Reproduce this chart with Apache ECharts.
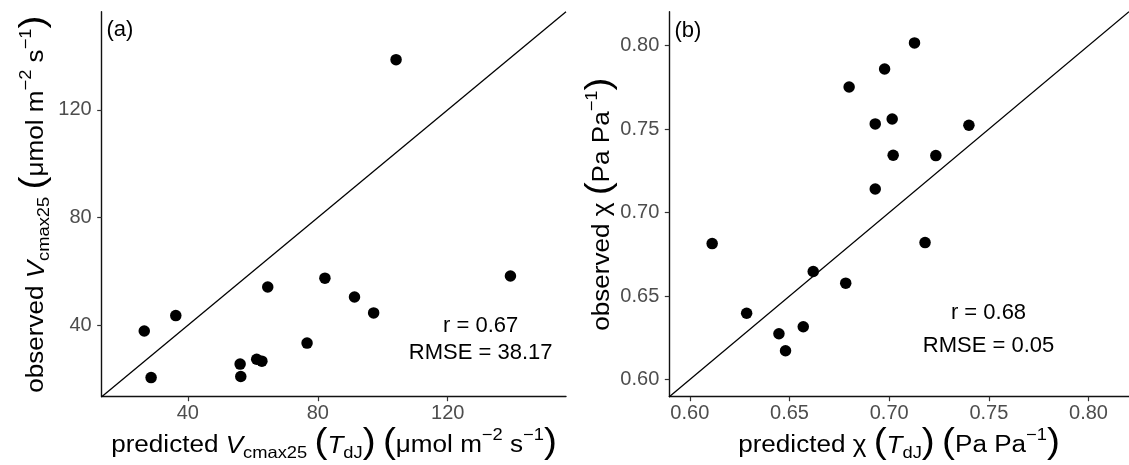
<!DOCTYPE html>
<html><head><meta charset="utf-8">
<script src="https://cdn.jsdelivr.net/npm/echarts@6/dist/echarts.min.js"></script>
<style>html,body{margin:0;padding:0;background:#fff}#c{width:1129px;height:465px}</style>
</head><body><div id="c"></div>
<script>
// ---- Panel (a): Vcmax25 ----
const predVcmax = [26.6, 28.7, 36.3, 56.1, 56.3, 61.2, 62.8, 64.6, 76.7, 82.2, 91.3, 97.2, 104.1, 139.3];
const obsVcmax  = [37.9, 20.6, 43.6, 25.6, 21.0, 27.4, 26.7, 54.2, 33.4, 57.5, 50.5, 44.6, 138.6, 58.3];
const limitsA = [13.5, 156.4];
const ticksA = [40, 80, 120];
const statsA = ['r = 0.67', 'RMSE = 38.17'];
const tagA = '(a)';
// ---- Panel (b): chi ----
const predChi = [0.6112, 0.6285, 0.6447, 0.6480, 0.6569, 0.6619, 0.6782, 0.6799, 0.6930, 0.6930, 0.6977, 0.7015, 0.7020, 0.7127, 0.7180, 0.7234, 0.7400];
const obsChi  = [0.6814, 0.6397, 0.6274, 0.6172, 0.6316, 0.6647, 0.6577, 0.7752, 0.7141, 0.7531, 0.7860, 0.7560, 0.7343, 0.8016, 0.6820, 0.7341, 0.7523];
const limitsB = [0.5897, 0.8203];
const ticksB = [0.60, 0.65, 0.70, 0.75, 0.80];
const statsB = ['r = 0.68', 'RMSE = 0.05'];
const tagB = '(b)';

const FONT = "'Liberation Sans', Arial, Helvetica, sans-serif";
const chart = echarts.init(document.getElementById('c'), null, {renderer: 'canvas'});

function axisCommon(lim, ticks, fmt, isX) {
  return {
    type: 'value', min: lim[0], max: lim[1],
    splitLine: {show: false},
    axisLine: {show: true, onZero: false, lineStyle: {color: '#111', width: 1.4}},
    axisTick: {show: true, customValues: ticks, length: 4.5, lineStyle: {color: '#333', width: 1.2}},
    axisLabel: {customValues: ticks, color: '#4d4d4d', fontSize: 20, fontFamily: FONT,
      margin: isX ? 6.5 : 10, formatter: fmt}
  };
}
const fmtA = v => String(Math.round(v));
const fmtB = v => v.toFixed(2);

const L = 34.5;
const MAIN = 23.5, SMALL = 16.5, PAREN = 35;
const rich = {
  m:   {fontSize: MAIN, fontFamily: FONT, color: '#000', verticalAlign: 'bottom', padding: [0, 0, 4, 0], lineHeight: L},
  i:   {fontSize: MAIN, fontFamily: FONT, color: '#000', fontStyle: 'italic', verticalAlign: 'bottom', padding: [0, 0, 4, 0], lineHeight: L},
  sub: {fontSize: SMALL, fontFamily: FONT, color: '#000', verticalAlign: 'bottom', lineHeight: L},
  sup: {fontSize: SMALL, fontFamily: FONT, color: '#000', verticalAlign: 'top', lineHeight: L},
  p:   {fontSize: PAREN, fontFamily: FONT, color: '#000', verticalAlign: 'bottom', padding: [0, 0, 1, 0], lineHeight: L}
};
function title(text, x, y, rot) {
  return {type: 'text', x: x, y: y, rotation: rot || 0, scaleX: 1.11, silent: true,
    style: {text: text, rich: rich, align: 'center', verticalAlign: 'middle', lineHeight: L,
      fontSize: MAIN, fontFamily: FONT, fill: '#000'}};
}
function plain(text, x, y, size, align) {
  return {type: 'text', x: x, y: y, silent: true,
    style: {text: text, fontSize: size, fontFamily: FONT, fill: '#000', align: align || 'center', verticalAlign: 'middle'}};
}

const titleXA = '{m|predicted }{i|V}{sub|cmax25}{m| }{p|(}{i|T}{sub|dJ}{p|)}{m| }{p|(}{m|μmol m}{sup|−2}{m| s}{sup|−1}{p|)}';
const titleYA = '{m|observed }{i|V}{sub|cmax25}{m| }{p|(}{m|μmol m}{sup|−2}{m| s}{sup|−1}{p|)}';
const titleXB = '{m|predicted }{m|χ}{m| }{p|(}{i|T}{sub|dJ}{p|)}{m| }{p|(}{m|Pa Pa}{sup|−1}{p|)}';
const titleYB = '{m|observed }{m|χ}{m| }{p|(}{m|Pa Pa}{sup|−1}{p|)}';

const option = {
  backgroundColor: '#fff',
  animation: false,
  grid: [
    {left: 101.7, top: 11.7, width: 464.3, height: 385, containLabel: false},
    {left: 669.3, top: 11.7, width: 459.7, height: 385, containLabel: false}
  ],
  xAxis: [
    Object.assign({gridIndex: 0}, axisCommon(limitsA, ticksA, fmtA, true)),
    Object.assign({gridIndex: 1}, axisCommon(limitsB, ticksB, fmtB, true))
  ],
  yAxis: [
    Object.assign({gridIndex: 0}, axisCommon(limitsA, ticksA, fmtA, false)),
    Object.assign({gridIndex: 1}, axisCommon(limitsB, ticksB, fmtB, false))
  ],
  series: [
    {type: 'line', xAxisIndex: 0, yAxisIndex: 0, data: [[limitsA[0], limitsA[0]], [limitsA[1], limitsA[1]]],
      symbol: 'none', silent: true, clip: true, lineStyle: {color: '#000', width: 1.3}},
    {type: 'scatter', xAxisIndex: 0, yAxisIndex: 0, data: predVcmax.map((v, k) => [v, obsVcmax[k]]),
      symbolSize: 11.5, itemStyle: {color: '#000', opacity: 1}},
    {type: 'line', xAxisIndex: 1, yAxisIndex: 1, data: [[limitsB[0], limitsB[0]], [limitsB[1], limitsB[1]]],
      symbol: 'none', silent: true, clip: true, lineStyle: {color: '#000', width: 1.3}},
    {type: 'scatter', xAxisIndex: 1, yAxisIndex: 1, data: predChi.map((v, k) => [v, obsChi[k]]),
      symbolSize: 11.5, itemStyle: {color: '#000', opacity: 1}}
  ],
  graphic: [
    title(titleXA, 334, 444.4),
    title(titleXB, 899, 444.4),
    title(titleYA, 35.4, 204.2, Math.PI / 2),
    title(titleYB, 601.4, 204.2, Math.PI / 2),
    plain(statsA[0], 480.7, 326.4, 22),
    plain(statsA[1], 480.7, 353.4, 22),
    plain(statsB[0], 988.5, 313.1, 22),
    plain(statsB[1], 988.5, 346.4, 22),
    plain(tagA, 106.5, 30, 22, 'left'),
    plain(tagB, 674.5, 30.5, 22, 'left')
  ]
};
chart.setOption(option);
</script></body></html>
